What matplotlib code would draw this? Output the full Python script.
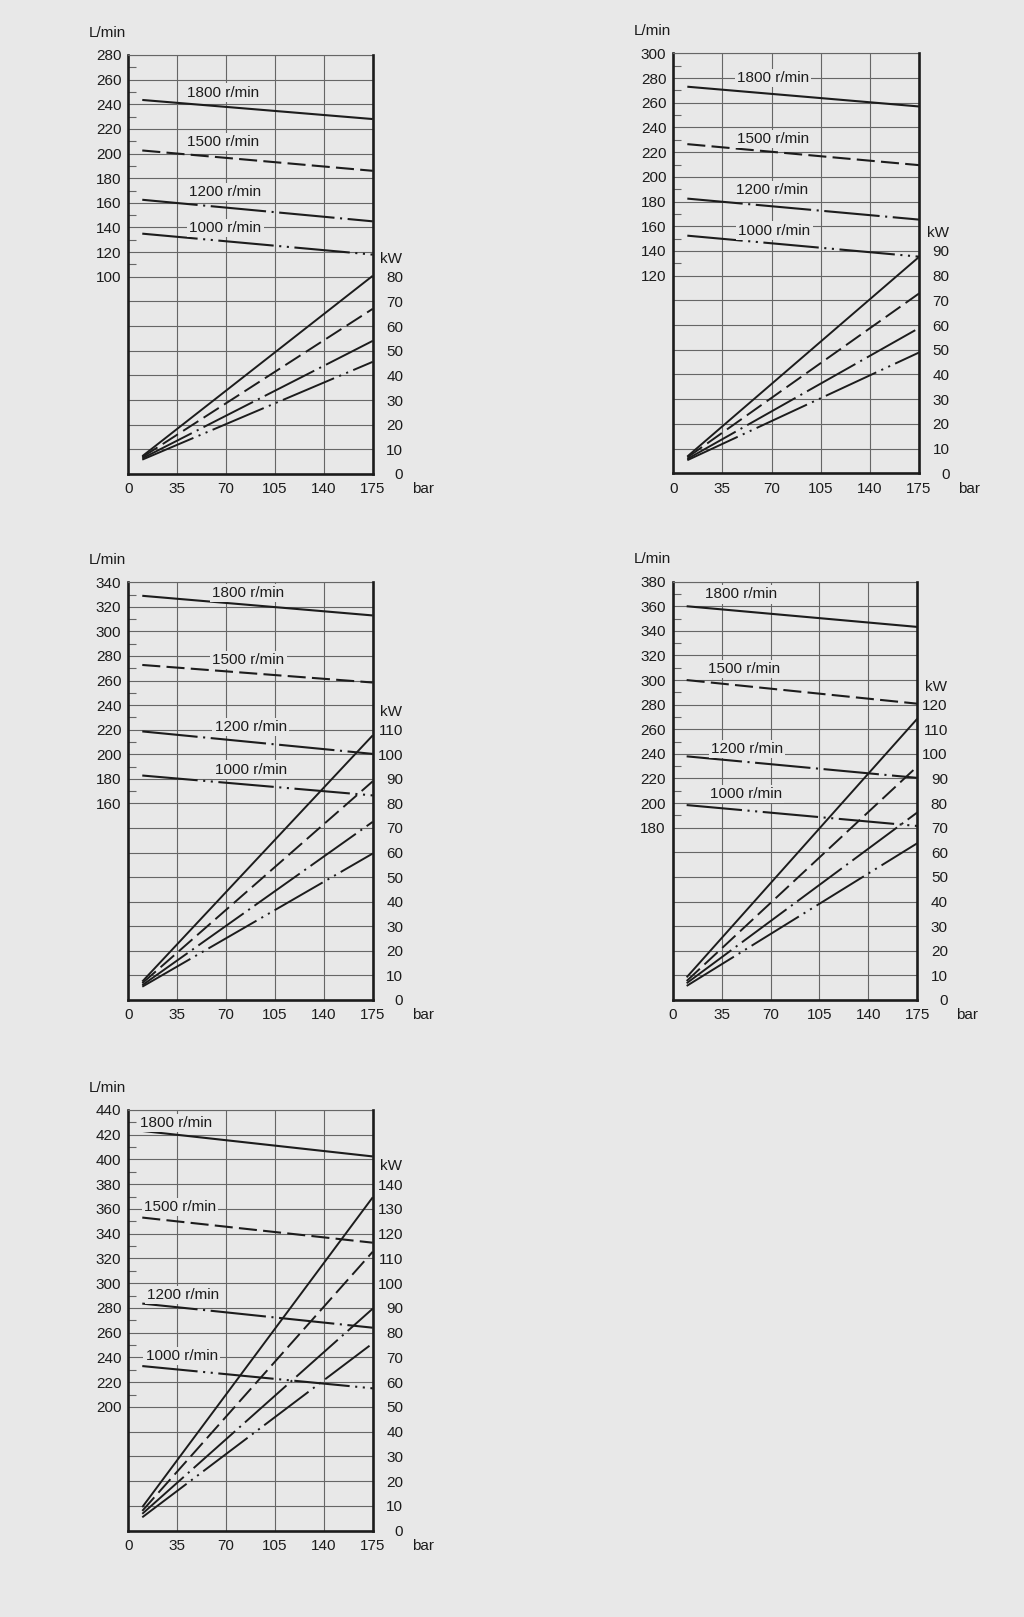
import matplotlib
matplotlib.use('Agg')
import matplotlib.pyplot as plt
import numpy as np

plt.rcParams['font.family'] = ['Liberation Sans', 'DejaVu Sans']
plt.rcParams['font.size'] = 11
plt.rcParams['lines.scale_dashes'] = False

bg = '#e8e8e8'
ink = '#1c1c1c'
gridc = '#666666'

##### Datos comunes
speeds = ['1800 r/min', '1500 r/min', '1200 r/min', '1000 r/min']
bar_ticks = [0, 35, 70, 105, 140, 175]
line_bar = [10, 175]

##### Caudal (L/min) y potencia (kW) por gráfica, [inicio, fin]
flow_1 = [[243.5, 228], [202.5, 186], [162.5, 145], [135, 118]]
power_1 = [[7.2, 80.4], [6.8, 67], [6.3, 54], [5.8, 45.5]]

flow_2 = [[273, 257], [226.5, 209.5], [182.4, 165.4], [152.4, 135.4]]
power_2 = [[6.8, 87.6], [6.4, 72.8], [5.8, 58.8], [5.3, 48.9]]

flow_3 = [[329, 313], [272.7, 258.4], [218.6, 200.3], [182.7, 166.5]]
power_3 = [[7.5, 107.7], [6.8, 89], [6, 72.5], [5.4, 59.6]]

flow_4 = [[360, 343.2], [300, 280.8], [238, 220.5], [198.4, 181.4]]
power_4 = [[9.2, 114.3], [7.7, 94.9], [6.8, 76.2], [5.7, 63.7]]

flow_5 = [[423, 402.4], [353, 332.7], [283.5, 264], [233, 215]]
power_5 = [[9.5, 134.7], [8, 112.7], [6.8, 89.7], [5.4, 75.7]]

##### Ejes: (L/min abajo, L/min arriba, primera etiqueta L/min, kW max)
scale_1 = (-60, 280, 100, 80)
scale_2 = (-40, 300, 120, 90)
scale_3 = (0, 340, 160, 110)
scale_4 = (40, 380, 180, 120)
scale_5 = (100, 440, 200, 140)

##### Posición de las etiquetas r/min (x en bar, y en L/min)
text_1 = [(68, 249.5), (68, 209.6), (69, 168.8), (69.5, 139.5)]
text_2 = [(71, 280), (71, 230.4), (70.4, 189.3), (72, 156.5)]
text_3 = [(85.5, 331.5), (86, 276.7), (87.6, 222.4), (87.6, 187.5)]
text_4 = [(48.7, 369.6), (51, 308.9), (53, 244), (52.5, 207.6)]
text_5 = [(34, 429.6), (37, 361.4), (39.4, 290.3), (38.2, 241)]

styles = ['-', (0, (13, 4.5)), (0, (40, 4, 1.5, 4)), (0, (40, 4, 1.5, 4, 1.5, 4))]

fig = plt.figure(figsize=(10.24, 16.17), dpi=100)
fig.patch.set_facecolor(bg)


def chart(rect, flows, powers, scale, texts):
    l_bot, l_top, l_first, kw_top = scale
    ax = fig.add_axes(rect)
    ax.set_facecolor(bg)
    ax.set_xlim(0, 175)
    ax.set_ylim(l_bot, l_top)
    ax.set_xticks(bar_ticks)
    grid = np.arange(l_bot, l_top + 1, 20)
    ax.set_yticks(grid, [str(v) if v >= l_first else '' for v in grid])
    ax.set_yticks(np.arange(l_first + 10, l_top, 20), minor=True)
    ax.tick_params(axis='y', which='major', length=0, pad=5, labelcolor=ink)
    ax.tick_params(axis='y', which='minor', direction='in', length=6, width=0.8, color=gridc)
    ax.tick_params(axis='x', length=0, pad=6, labelcolor=ink)
    ax.grid(True, which='major', color=gridc, lw=0.8)
    for s in ['left', 'bottom']:
        ax.spines[s].set_linewidth(1.9)
        ax.spines[s].set_color(ink)
    ax.spines['top'].set_linewidth(0.8)
    ax.spines['top'].set_color(gridc)
    ax.spines['right'].set_visible(False)

    for i in range(4):
        ax.plot(line_bar, flows[i], color=ink, lw=1.5, ls=styles[i],
                solid_capstyle='butt', dash_capstyle='butt')
        ax.text(texts[i][0], texts[i][1], speeds[i], ha='center', va='center', color=ink,
                bbox=dict(fc=bg, ec='none', pad=1.5), zorder=3)

    ax.text(-0.16, 1.053, 'L/min', transform=ax.transAxes, ha='left', va='center', color=ink)
    ax.annotate('bar', xy=(1.205, 0), xycoords='axes fraction', xytext=(0, -6),
                textcoords='offset points', ha='center', va='top', color=ink)

    ax2 = ax.twinx()
    ax2.set_ylim(0, (l_top - l_bot) / 2)
    ax2.set_yticks(np.arange(0, kw_top + 1, 10))
    ax2.tick_params(axis='y', length=0, pad=22, labelcolor=ink)
    plt.setp(ax2.get_yticklabels(), ha='right')
    for s in ['left', 'bottom', 'top']:
        ax2.spines[s].set_visible(False)
    ax2.spines['right'].set_linewidth(1.9)
    ax2.spines['right'].set_color(ink)
    for i in range(4):
        ax2.plot(line_bar, powers[i], color=ink, lw=1.4, ls=styles[i],
                 solid_capstyle='butt', dash_capstyle='butt')
    ax2.annotate('kW', xy=(1, kw_top), xycoords=('axes fraction', 'data'), xytext=(13.5, 13),
                 textcoords='offset points', ha='center', va='center', color=ink)


chart([0.1253, 0.7069, 0.2387, 0.2591], flow_1, power_1, scale_1, text_1)
chart([0.6575, 0.7073, 0.2400, 0.2597], flow_2, power_2, scale_2, text_2)
chart([0.1253, 0.3816, 0.2387, 0.2583], flow_3, power_3, scale_3, text_3)
chart([0.6569, 0.3816, 0.2389, 0.2587], flow_4, power_4, scale_4, text_4)
chart([0.1253, 0.0534, 0.2387, 0.2602], flow_5, power_5, scale_5, text_5)

fig.savefig('out.png', dpi=100, facecolor=bg)
